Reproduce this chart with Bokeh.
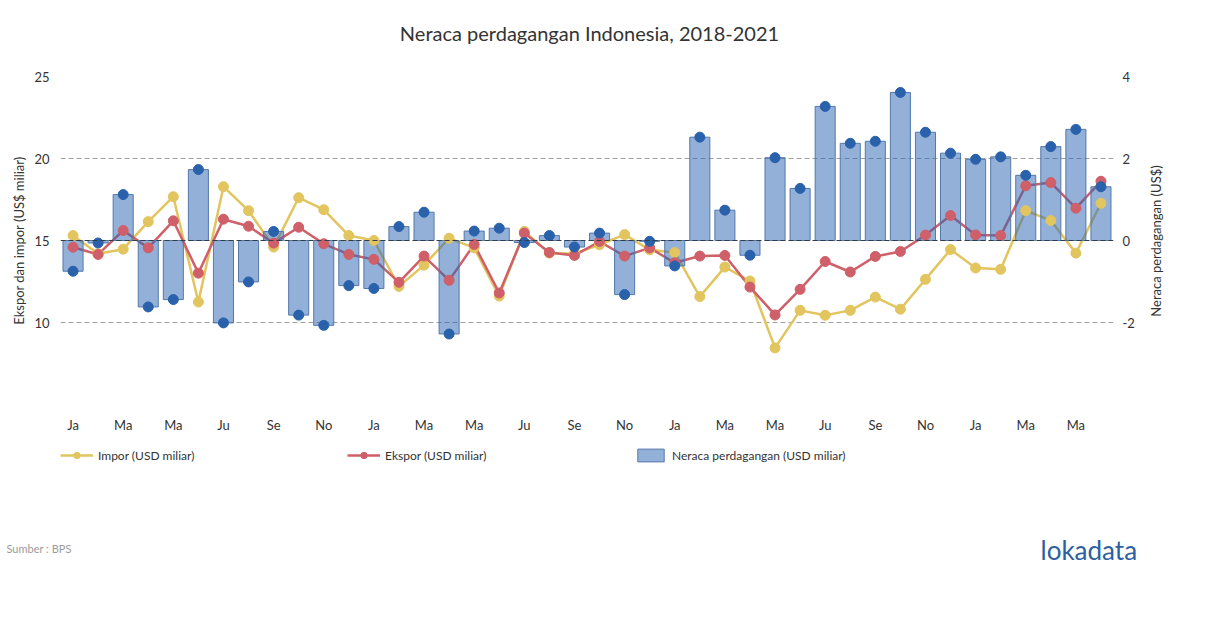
import math
from bokeh.plotting import figure
from bokeh.layouts import column, row
from bokeh.models import (Range1d, LinearAxis, FixedTicker, Span, Legend, LegendItem,
                          Label, ColumnDataSource)
from bokeh.embed import file_html
from bokeh.resources import INLINE

# ---------------- data ----------------
months = [f"{m} {y}" for y in (2018, 2019, 2020) for m in
          ["Jan", "Feb", "Mar", "Apr", "May", "Jun", "Jul", "Aug", "Sep", "Oct", "Nov", "Dec"]] + \
         [f"{m} 2021" for m in ["Jan", "Feb", "Mar", "Apr", "May", "Jun"]]

impor = [15.30, 14.19, 14.47, 16.15, 17.67, 11.25, 18.28, 16.82, 14.60, 17.61,
         16.88, 15.30, 15.00, 12.20, 13.50, 15.14, 14.55, 11.61, 15.55, 14.23,
         14.20, 14.74, 15.36, 14.43, 14.27, 11.58, 13.38, 12.53, 8.45, 10.74,
         10.44, 10.74, 11.55, 10.81, 12.63, 14.45, 13.32, 13.24, 16.82, 16.22,
         14.23, 17.27]

ekspor = [14.59, 14.15, 15.61, 14.55, 16.20, 13.01, 16.30, 15.87, 14.84, 15.81,
          14.80, 14.15, 13.85, 12.45, 14.05, 12.57, 14.76, 11.80, 15.45, 14.27,
          14.09, 14.94, 14.05, 14.55, 13.64, 14.05, 14.09, 12.16, 10.46, 12.02,
          13.72, 13.08, 14.03, 14.33, 15.33, 16.52, 15.34, 15.30, 18.34, 18.53,
          16.97, 18.61]

neraca = [-0.75, -0.06, 1.12, -1.62, -1.44, 1.73, -2.01, -1.01, 0.22, -1.82,
          -2.07, -1.10, -1.17, 0.34, 0.69, -2.28, 0.23, 0.30, -0.05, 0.12,
          -0.16, 0.18, -1.32, -0.02, -0.62, 2.52, 0.74, -0.36, 2.02, 1.27,
          3.27, 2.37, 2.42, 3.61, 2.64, 2.13, 1.98, 2.04, 1.59, 2.29,
          2.71, 1.31]

tick_labels = ["Ja", "Ma", "Ma", "Ju", "Se", "No"] * 3 + ["Ja", "Ma", "Ma"]

left_ticks = [10, 15, 20, 25]
right_ticks = [-2, 0, 2, 4]

# ---------------- styling ----------------
FONT = "Lato"
YELLOW = "#e2c55e"
RED = "#cf5f68"
BLUE_DOT = "#2a61ab"
BAR_FILL = "#2f67b5"
BAR_LINE = "#5479aa"
TXT = "#333333"
W = 1200
PW = 1140          # width of the chart figure (frame right edge at 1113)
PH = 375           # height of the chart figure


def blank(width, height):
    f = figure(width=width, height=height, output_backend="svg", toolbar_location=None,
               x_range=Range1d(0, width), y_range=Range1d(0, height), min_border=0)
    f.frame_align = False
    f.axis.visible = False
    f.grid.visible = False
    f.outline_line_color = None
    return f


# ---------------- header (title) ----------------
HH = 60
h = blank(W, HH)
h.add_layout(Label(x=589, y=HH - 32, x_units="screen", y_units="screen",
                   text="Neraca perdagangan Indonesia, 2018-2021", text_font=FONT,
                   text_font_size="20px", text_color=TXT, text_align="center",
                   text_baseline="middle"))

# ---------------- main chart ----------------
idx = list(range(len(months)))
src = ColumnDataSource(dict(idx=idx, month=months, impor=impor, ekspor=ekspor, neraca=neraca))

p = figure(width=PW, height=PH, output_backend="svg", toolbar_location=None,
           x_range=Range1d(-0.5, len(months) - 0.5), y_range=Range1d(5, 25),
           min_border_left=60, min_border_right=PW - 1113, min_border_top=16, min_border_bottom=30)
p.frame_align = False
p.extra_y_ranges = {"bal": Range1d(-4, 4)}
p.outline_line_color = None
p.background_fill_color = "white"
p.border_fill_color = "white"

la = p.yaxis[0]
la.ticker = FixedTicker(ticks=left_ticks)
la.axis_label = "Ekspor dan impor (US$ miliar)"
ra = LinearAxis(y_range_name="bal", ticker=FixedTicker(ticks=right_ticks))
ra.major_label_overrides = {t: str(t) for t in right_ticks}
p.add_layout(ra, "right")

xa = p.xaxis[0]
xa.ticker = FixedTicker(ticks=idx[::2])
xa.major_label_overrides = {i: lab for i, lab in zip(idx[::2], tick_labels)}

for ax in (la, ra, xa):
    ax.axis_line_color = None
    ax.major_tick_line_color = None
    ax.minor_tick_line_color = None
    ax.major_tick_out = 0
    ax.major_tick_in = 0
    ax.minor_tick_out = 0
    ax.minor_tick_in = 0
    ax.major_label_text_font = FONT
    ax.major_label_text_font_size = "13px"
    ax.major_label_text_color = TXT
    ax.axis_label_text_font = FONT
    ax.axis_label_text_font_size = "13px"
    ax.axis_label_text_font_style = "normal"
    ax.axis_label_text_color = TXT
la.major_label_standoff = 11
la.axis_label_standoff = 4
ra.major_label_standoff = 9
xa.major_label_standoff = 12

p.xgrid.grid_line_color = None
p.ygrid[0].ticker = FixedTicker(ticks=[5, 10, 20, 25])
p.ygrid.grid_line_color = "#a0a0a0"
p.ygrid.grid_line_dash = "5 3"
p.ygrid.grid_line_width = 1

p.line("idx", "impor", source=src, line_color=YELLOW, line_width=2.5)
p.line("idx", "ekspor", source=src, line_color=RED, line_width=2.5)
p.vbar(x="idx", top="neraca", bottom=0, width=0.8, source=src, y_range_name="bal",
       fill_color=BAR_FILL, fill_alpha=0.52, line_color=BAR_LINE, line_width=1)
p.add_layout(Span(location=15, dimension="width", line_color="#333d48", line_dash="5 3",
                  line_width=1))
p.scatter("idx", "impor", source=src, size=10, fill_color=YELLOW, line_color=YELLOW)
p.scatter("idx", "ekspor", source=src, size=10, fill_color=RED, line_color=RED)
p.scatter("idx", "neraca", source=src, size=10, fill_color=BLUE_DOT, line_color=BLUE_DOT,
          y_range_name="bal")

# ---------------- right axis title (reads bottom-to-top) ----------------
r = blank(W - PW, PH)
r.add_layout(Label(x=15, y=PH - 180.5, x_units="screen", y_units="screen",
                   text="Neraca perdagangan (US$)", angle=math.pi / 2, text_font=FONT,
                   text_font_size="13px", text_color=TXT, text_align="center",
                   text_baseline="middle"))

# ---------------- legend + footer ----------------
GH = 165
g = blank(W, GH)
nan = float("nan")
proxy = ColumnDataSource(dict(x=[nan], y=[nan]))
gl_imp = g.line("x", "y", source=proxy, line_color=YELLOW, line_width=2.5)
gd_imp = g.scatter("x", "y", source=proxy, size=10, fill_color=YELLOW, line_color=YELLOW)
gl_eks = g.line("x", "y", source=proxy, line_color=RED, line_width=2.5)
gd_eks = g.scatter("x", "y", source=proxy, size=10, fill_color=RED, line_color=RED)
g_bar = g.vbar(x="x", top="y", width=0.8, source=proxy,
               fill_color=BAR_FILL, fill_alpha=0.52, line_color=BAR_LINE, line_width=1)

legend = Legend(items=[
    LegendItem(label="Impor (USD miliar)", renderers=[gl_imp, gd_imp], index=0),
    LegendItem(label="Ekspor (USD miliar)", renderers=[gl_eks, gd_eks], index=0),
    LegendItem(label="Neraca perdagangan (USD miliar)", renderers=[g_bar], index=0),
], location=(60, GH - 28), orientation="horizontal", padding=0, margin=0, spacing=50,
    glyph_width=33, glyph_height=16, label_standoff=5, label_width=199, label_height=16,
    label_text_font=FONT, label_text_font_size="12px", label_text_color=TXT,
    background_fill_alpha=0, border_line_alpha=0)
g.add_layout(legend)

g.add_layout(Label(x=6, y=GH - 113, x_units="screen", y_units="screen", text="Sumber : BPS",
                   text_font=FONT, text_font_size="11px", text_color="#9a9a9a",
                   text_baseline="middle"))
g.add_layout(Label(x=1040, y=GH - 114, x_units="screen", y_units="screen", text="lokadata",
                   text_font=FONT, text_font_size="26px", text_color="#2c5f9f",
                   text_baseline="middle"))

open("out.html", "w").write(file_html(column(h, row(p, r), g), INLINE))
